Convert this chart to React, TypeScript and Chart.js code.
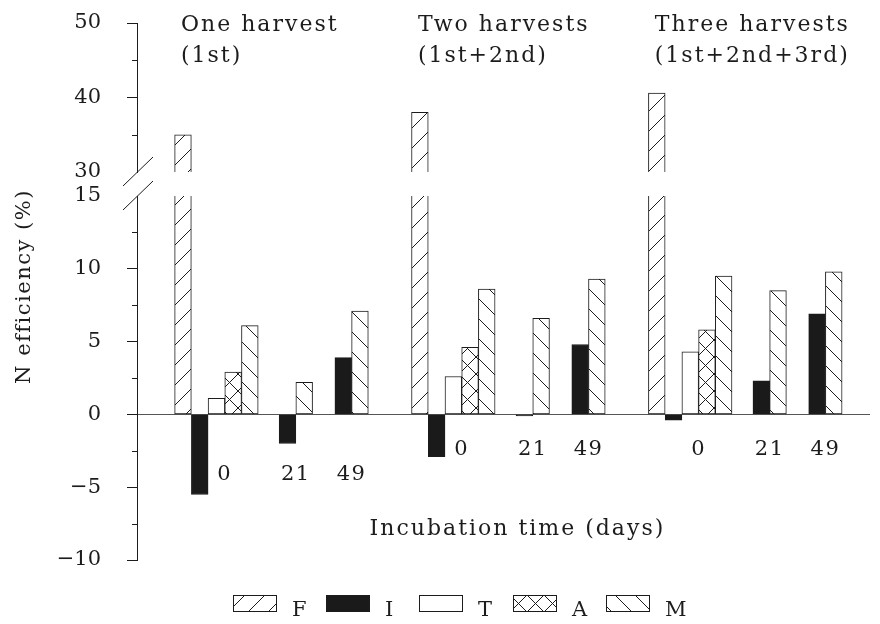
import React, { useEffect, useRef } from 'react';
import { Chart, registerables } from 'chart.js';

Chart.register(...registerables);

// ---------------- data ----------------
const SERIES = ['F', 'I', 'T', 'A', 'M'];
const GROUP_TITLES = [
  ['One harvest', '(1st)'],
  ['Two harvests', '(1st+2nd)'],
  ['Three harvests', '(1st+2nd+3rd)'],
];
const INCUBATION_DAYS = ['0', '21', '49'];
const X_TITLE = 'Incubation time (days)';
const Y_TITLE = 'N efficiency (%)';

// F: one bar per harvest group
const F_VALUES = [35.0, 38.0, 40.6];
// rows = harvest groups, columns = incubation days 0, 21, 49
const I_VALUES = [[-5.5, -2.0, 3.9], [-2.9, -0.1, 4.8], [-0.4, 2.3, 6.9]];
const T_VALUES = [[1.1, null, null], [2.6, null, null], [4.3, null, null]];
const A_VALUES = [[2.9, null, null], [4.6, null, null], [5.8, null, null]];
const M_VALUES = [[6.1, 2.2, 7.1], [8.6, 6.6, 9.3], [9.5, 8.5, 9.8]];

const Y_LOWER_TICKS = [-10, -5, 0, 5, 10, 15];
const Y_LOWER_MINOR = [-7.5, -2.5, 2.5, 7.5, 12.5];
const Y_UPPER_TICKS = [30, 40, 50];
const Y_UPPER_MINOR = [35, 45];

// ---------------- layout ----------------
const GROUP_SPAN = 17;
const SLOT_OFFSETS = [0, 3, 8.1, 12.1]; // F, day 0, day 21, day 49
const X_MIN = -3.3;
const X_MAX = 49.3;
const LOWER_MIN = -10;
const LOWER_MAX = 15;
const UPPER_MIN = 30;
const UPPER_MAX = 50;
const DAY_LABEL_LEVEL = [-4.1, -2.4, -2.4];
const X_TITLE_POS = { x: 24, y: -7.9 };
const AXIS_X = 137;

const INK = '#1c1c1c';
const FONT = '"DejaVu Serif", serif';
const TRANSPARENT = 'rgba(0,0,0,0)';

function makePattern(kind: string, size: number) {
  const c = document.createElement('canvas');
  c.width = size;
  c.height = size;
  const g = c.getContext('2d')!;
  g.fillStyle = '#ffffff';
  g.fillRect(0, 0, size, size);
  g.strokeStyle = INK;
  g.lineWidth = 1;
  const line = (x1: number, y1: number, x2: number, y2: number) => {
    g.beginPath();
    g.moveTo(x1, y1);
    g.lineTo(x2, y2);
    g.stroke();
  };
  if (kind === 'fwd' || kind === 'cross') {
    line(-1, size + 1, size + 1, -1);
    line(-2, 2, 2, -2);
    line(size - 2, size + 2, size + 2, size - 2);
  }
  if (kind === 'back' || kind === 'cross') {
    line(-1, -1, size + 1, size + 1);
    line(size - 2, -2, size + 2, 2);
    line(-2, size - 2, 2, size + 2);
  }
  return g.createPattern(c, 'repeat')!;
}

const fX = (g: number) => g * GROUP_SPAN + SLOT_OFFSETS[0];
const dayX = (g: number, d: number) => g * GROUP_SPAN + SLOT_OFFSETS[d + 1];
const points = (rows: (number | null)[][]) =>
  rows.flatMap((row, g) =>
    row
      .map((v, d) => (v === null ? null : { x: dayX(g, d), y: v }))
      .filter((p) => p !== null)
  );

const fmt = (v: number | string) => {
  const n = Number(v);
  return n < 0 ? '\u2212' + Math.abs(n) : String(n);
};

const fitAxis = (s: any) => {
  s.width = AXIS_X;
  s.paddingTop = 12;
  s.paddingBottom = 12;
};

const annotations = {
  id: 'annotations',
  afterDraw(chart: any) {
    const ctx = chart.ctx as CanvasRenderingContext2D;
    const xs = chart.scales.x;
    const yl = chart.scales.y;
    const yu = chart.scales.yTop;
    const area = chart.chartArea;
    ctx.save();
    ctx.fillStyle = INK;
    ctx.strokeStyle = INK;
    ctx.lineWidth = 1;

    // minor ticks
    const minor = (scale: any, v: number) => {
      const y = Math.round(scale.getPixelForValue(v)) + 0.5;
      ctx.beginPath();
      ctx.moveTo(area.left - 5, y);
      ctx.lineTo(area.left, y);
      ctx.stroke();
    };
    Y_UPPER_MINOR.forEach((v) => minor(yu, v));
    Y_LOWER_MINOR.forEach((v) => minor(yl, v));

    // axis break marks
    const brk = (y: number) => {
      ctx.beginPath();
      ctx.moveTo(area.left - 14, y + 14);
      ctx.lineTo(area.left + 16, y - 15);
      ctx.stroke();
    };
    brk(yu.getPixelForValue(UPPER_MIN));
    brk(yl.getPixelForValue(LOWER_MAX));

    // group titles
    ctx.font = `22px ${FONT}`;
    (ctx as any).letterSpacing = '2px';
    ctx.textAlign = 'left';
    ctx.textBaseline = 'alphabetic';
    GROUP_TITLES.forEach((lines, g) => {
      const x = xs.getPixelForValue(fX(g)) - 2;
      const top = yu.getPixelForValue(UPPER_MAX);
      ctx.fillText(lines[0], x, top + 8);
      ctx.fillText(lines[1], x, top + 39);
    });

    ctx.textAlign = 'center';
    ctx.textBaseline = 'middle';
    ctx.fillText(X_TITLE, xs.getPixelForValue(X_TITLE_POS.x), yl.getPixelForValue(X_TITLE_POS.y));

    ctx.font = `21px ${FONT}`;
    (ctx as any).letterSpacing = '1.5px';
    GROUP_TITLES.forEach((_, g) => {
      INCUBATION_DAYS.forEach((lab, d) => {
        ctx.fillText(lab, xs.getPixelForValue(dayX(g, d)), yl.getPixelForValue(DAY_LABEL_LEVEL[g]));
      });
    });

    // y title
    ctx.save();
    ctx.translate(25, (area.top + area.bottom) / 2 - 5);
    ctx.rotate(-Math.PI / 2);
    ctx.fillText(Y_TITLE, 0, 0);
    ctx.restore();

    // legend
    const ds = chart.data.datasets;
    const legendItems = SERIES.map((s) => ds.find((d: any) => d.label === s));
    const legendLeft = 233;
    const legendStep = 93.2;
    const boxTop = 595;
    legendItems.forEach((d: any, i: number) => {
      const x = Math.round(legendLeft + i * legendStep);
      ctx.fillStyle = d.backgroundColor;
      ctx.fillRect(x, boxTop, 44, 17);
      ctx.strokeStyle = INK;
      ctx.strokeRect(x + 0.5, boxTop + 0.5, 43, 16);
      ctx.fillStyle = INK;
      ctx.textAlign = 'left';
      ctx.textBaseline = 'alphabetic';
      ctx.fillText(d.label, x + 59, boxTop + 21);
    });
    ctx.restore();
  },
};

export default function App() {
  const ref = useRef<HTMLCanvasElement>(null);
  useEffect(() => {
    document.body.style.margin = '0';
    const fPat = makePattern('fwd', 20);
    const mPat = makePattern('back', 20);
    const aPat = makePattern('cross', 17);
    const tickFont = { family: FONT, size: 21 };

    const chart = new Chart(ref.current!, {
      type: 'bar',
      data: {
        datasets: [
          {
            label: 'F',
            data: F_VALUES.map((v, g) => ({ x: fX(g), y: Math.min(v, LOWER_MAX) })),
            yAxisID: 'y',
            grouped: false,
            backgroundColor: fPat,
            borderSkipped: 'end',
          },
          {
            label: 'F (upper)',
            data: F_VALUES.map((v, g) => ({ x: fX(g), y: v })),
            yAxisID: 'yTop',
            grouped: false,
            backgroundColor: fPat,
            borderSkipped: 'start',
          },
          { label: 'I', data: points(I_VALUES), yAxisID: 'y', backgroundColor: '#1a1a1a' },
          { label: 'T', data: points(T_VALUES), yAxisID: 'y', backgroundColor: '#ffffff' },
          { label: 'A', data: points(A_VALUES), yAxisID: 'y', backgroundColor: aPat },
          { label: 'M', data: points(M_VALUES), yAxisID: 'y', backgroundColor: mPat },
        ] as any,
      },
      options: {
        responsive: false,
        animation: false,
        devicePixelRatio: 1,
        layout: { padding: { left: 0, right: 10, top: 23, bottom: 64 } },
        plugins: { legend: { display: false }, tooltip: { enabled: false } },
        datasets: {
          bar: {
            barThickness: 16.7,
            skipNull: true,
            borderWidth: 1,
            borderColor: INK,
            borderSkipped: false,
          },
        },
        scales: {
          x: {
            type: 'linear',
            display: false,
            offset: false,
            min: X_MIN,
            max: X_MAX,
            grid: { offset: false },
          },
          yTop: {
            type: 'linear',
            position: 'left',
            stack: 'yaxis',
            stackWeight: 149,
            weight: 3,
            min: UPPER_MIN,
            max: UPPER_MAX,
            afterBuildTicks: (s: any) => {
              s.ticks = Y_UPPER_TICKS.map((value) => ({ value }));
            },
            afterFit: fitAxis,
            ticks: { font: tickFont, color: INK, padding: 26, callback: fmt },
            grid: {
              drawOnChartArea: false,
              tickLength: 10,
              tickWidth: 1,
              tickColor: (c: any) => (c.tick && c.tick.value === UPPER_MIN ? TRANSPARENT : INK),
            },
            border: { display: true, color: INK, width: 1 },
          },
          yGap: {
            type: 'linear',
            position: 'left',
            stack: 'yaxis',
            stackWeight: 24,
            weight: 2,
            min: 0,
            max: 1,
            afterFit: fitAxis,
            ticks: { display: false },
            grid: { display: false },
            border: { display: false },
          },
          y: {
            type: 'linear',
            position: 'left',
            stack: 'yaxis',
            stackWeight: 364,
            weight: 1,
            min: LOWER_MIN,
            max: LOWER_MAX,
            stacked: false,
            afterBuildTicks: (s: any) => {
              s.ticks = Y_LOWER_TICKS.map((value) => ({ value }));
            },
            afterFit: fitAxis,
            ticks: { font: tickFont, color: INK, padding: 26, callback: fmt },
            grid: {
              drawOnChartArea: true,
              tickLength: 10,
              tickWidth: 1,
              color: (c: any) => (c.tick && c.tick.value === 0 ? '#555555' : TRANSPARENT),
              tickColor: (c: any) => (c.tick && c.tick.value === LOWER_MAX ? TRANSPARENT : INK),
            },
            border: { display: true, color: INK, width: 1 },
          },
        } as any,
      },
      plugins: [annotations],
    } as any);
    return () => chart.destroy();
  }, []);

  return (
    <div style={{ width: 880, height: 624, background: '#ffffff' }}>
      <canvas ref={ref} width={880} height={624} style={{ display: 'block' }} />
    </div>
  );
}
